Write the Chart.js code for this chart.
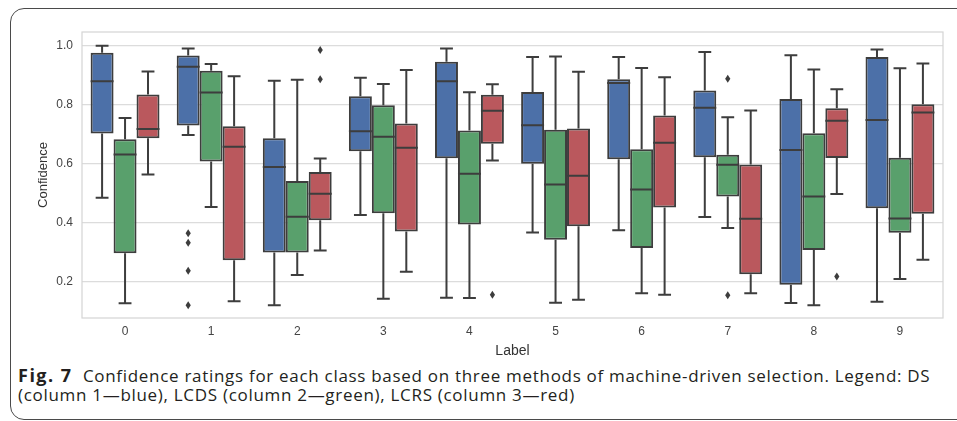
<!DOCTYPE html>
<html>
<head>
<meta charset="utf-8">
<script src="https://cdn.jsdelivr.net/npm/chart.js@4"></script>
<style>
  body { margin: 0; background: #fff; width: 957px; height: 421px; overflow: hidden; position: relative; }
  #frame { position: absolute; left: 10px; top: 8px; width: 970px; height: 410px; border: 1.5px solid #4a4a4a; border-radius: 14px; }
  #chart { position: absolute; left: 0; top: 0; }
  #caption { position: absolute; left: 18px; top: 366px; font-family: 'Open Sans', sans-serif; font-size: 17px; letter-spacing: 0.7px; line-height: 18.5px; color: #231f20; white-space: nowrap; }
  #caption b { font-weight: 700; font-size: 18px; letter-spacing: 1.5px; }
</style>
</head>
<body>
<div id="frame"></div>
<canvas id="chart" width="957" height="362"></canvas>
<div id="caption"><b>Fig. 7</b>&nbsp; Confidence ratings for each class based on three methods of machine-driven selection. Legend: DS<br>(column 1—blue), LCDS (column 2—green), LCRS (column 3—red)</div>
<script>
const labels = ['0', '1', '2', '3', '4', '5', '6', '7', '8', '9'];
const yTicks = [0.2, 0.4, 0.6, 0.8, 1.0];

// DS (blue)
const dsLow  = [0.485, 0.698, 0.121, 0.427, 0.147, 0.368, 0.375, 0.420, 0.129, 0.133];
const dsQ1   = [0.703, 0.730, 0.300, 0.643, 0.619, 0.601, 0.616, 0.623, 0.191, 0.450];
const dsMed  = [0.880, 0.929, 0.590, 0.711, 0.880, 0.731, 0.874, 0.790, 0.647, 0.749];
const dsQ3   = [0.977, 0.967, 0.687, 0.829, 0.946, 0.844, 0.887, 0.849, 0.820, 0.962];
const dsHigh = [1.000, 0.991, 0.882, 0.892, 0.991, 0.962, 0.962, 0.979, 0.968, 0.988];
const dsOut  = [[], [0.365, 0.333, 0.238, 0.121], [], [], [], [], [], [], [], []];

// LCDS (green)
const lcdsLow  = [0.128, 0.454, 0.224, 0.143, 0.146, 0.130, 0.162, 0.383, 0.121, 0.210];
const lcdsQ1   = [0.297, 0.608, 0.300, 0.433, 0.395, 0.343, 0.315, 0.490, 0.308, 0.367];
const lcdsMed  = [0.632, 0.842, 0.421, 0.692, 0.567, 0.530, 0.513, 0.597, 0.490, 0.415];
const lcdsQ3   = [0.684, 0.916, 0.542, 0.799, 0.713, 0.716, 0.650, 0.631, 0.704, 0.621];
const lcdsHigh = [0.756, 0.939, 0.885, 0.871, 0.843, 0.964, 0.925, 0.758, 0.920, 0.924];
const lcdsOut  = [[], [], [], [], [], [], [], [0.889, 0.155], [], []];

// LCRS (red)
const lcrsLow  = [0.564, 0.135, 0.307, 0.235, 0.612, 0.140, 0.157, 0.162, 0.498, 0.275];
const lcrsQ1   = [0.687, 0.274, 0.409, 0.371, 0.668, 0.389, 0.452, 0.226, 0.620, 0.431];
const lcrsMed  = [0.718, 0.658, 0.499, 0.655, 0.780, 0.560, 0.672, 0.414, 0.746, 0.774];
const lcrsQ3   = [0.835, 0.728, 0.573, 0.737, 0.834, 0.720, 0.764, 0.598, 0.789, 0.802];
const lcrsHigh = [0.913, 0.897, 0.618, 0.918, 0.870, 0.912, 0.894, 0.781, 0.853, 0.940];
const lcrsOut  = [[], [], [0.986, 0.887], [], [0.157], [], [], [], [0.219], []];

const series = [
    { name: 'DS', color: '#4c70a8', low: dsLow, q1: dsQ1, med: dsMed, q3: dsQ3, high: dsHigh, out: dsOut },
    { name: 'LCDS', color: '#59a06c', low: lcdsLow, q1: lcdsQ1, med: lcdsMed, q3: lcdsQ3, high: lcdsHigh, out: lcdsOut },
    { name: 'LCRS', color: '#ba585d', low: lcrsLow, q1: lcrsQ1, med: lcrsMed, q3: lcrsQ3, high: lcrsHigh, out: lcrsOut },
];

const lineColor = '#3d3d3d';

// whiskers, medians and outliers on top of the floating bars
const boxExtras = {
    id: 'boxExtras',
    beforeDatasetsDraw(chart) {
        const { ctx, chartArea: a } = chart;
        ctx.save();
        ctx.strokeStyle = '#d4d4d4';
        ctx.lineWidth = 1.2;
        ctx.strokeRect(a.left, a.top, a.right - a.left, a.bottom - a.top);
        ctx.restore();
    },
    afterDatasetsDraw(chart) {
        const ctx = chart.ctx;
        const yScale = chart.scales.y;
        ctx.save();
        ctx.strokeStyle = lineColor;
        ctx.fillStyle = lineColor;
        ctx.lineWidth = 2;
        series.forEach((s, i) => {
            const meta = chart.getDatasetMeta(i);
            meta.data.forEach((bar, j) => {
                const x = bar.x;
                const w = bar.width;
                const cap = w * 0.28;
                const yLow = yScale.getPixelForValue(s.low[j]);
                const yQ1 = yScale.getPixelForValue(s.q1[j]);
                const yMed = yScale.getPixelForValue(s.med[j]);
                const yQ3 = yScale.getPixelForValue(s.q3[j]);
                const yHigh = yScale.getPixelForValue(s.high[j]);
                ctx.beginPath();
                ctx.moveTo(x, yQ3); ctx.lineTo(x, yHigh);
                ctx.moveTo(x - cap, yHigh); ctx.lineTo(x + cap, yHigh);
                ctx.moveTo(x, yQ1); ctx.lineTo(x, yLow);
                ctx.moveTo(x - cap, yLow); ctx.lineTo(x + cap, yLow);
                ctx.moveTo(x - w / 2, yMed); ctx.lineTo(x + w / 2, yMed);
                ctx.stroke();
                s.out[j].forEach(v => {
                    const yo = yScale.getPixelForValue(v);
                    ctx.beginPath();
                    ctx.moveTo(x, yo - 4);
                    ctx.lineTo(x + 2.6, yo);
                    ctx.lineTo(x, yo + 4);
                    ctx.lineTo(x - 2.6, yo);
                    ctx.closePath();
                    ctx.fill();
                });
            });
        });
        ctx.restore();
    }
};

new Chart(document.getElementById('chart'), {
    type: 'bar',
    data: {
        labels: labels,
        datasets: series.map(s => ({
            label: s.name,
            data: s.q1.map((q, j) => [q, s.q3[j]]),
            backgroundColor: s.color,
            borderColor: lineColor,
            borderWidth: 2,
            borderSkipped: false,
        }))
    },
    options: {
        responsive: false,
        animation: false,
        devicePixelRatio: 1,
        layout: { padding: { left: 22, top: 32, right: 14, bottom: 0 } },
        datasets: { bar: { barPercentage: 1.0, categoryPercentage: 0.8 } },
        plugins: {
            legend: { display: false },
            tooltip: { enabled: false },
        },
        scales: {
            x: {
                grid: { display: false, drawTicks: false },
                border: { display: false },
                ticks: { color: '#444', font: { family: 'Liberation Sans', size: 12 }, padding: 6 },
                title: { display: true, text: 'Label', color: '#333', font: { family: 'Liberation Sans', size: 14 }, padding: { top: 0, bottom: 2 } },
                afterFit(scale) { scale.height = 44; }
            },
            y: {
                min: 0.078,
                max: 1.047,
                afterBuildTicks(scale) { scale.ticks = yTicks.map(v => ({ value: v })); },
                grid: { color: '#dcdcdc', lineWidth: 1.2, drawTicks: false },
                border: { display: false },
                ticks: { color: '#444', font: { family: 'Liberation Sans', size: 12 }, padding: 9, callback: v => v.toFixed(1) },
                title: { display: true, text: 'Confidence', color: '#333', font: { family: 'Liberation Sans', size: 13 }, padding: { top: 14, bottom: 0 } },
                afterFit(scale) { scale.width = 60; }
            }
        }
    },
    plugins: [boxExtras]
});
</script>
</body>
</html>
